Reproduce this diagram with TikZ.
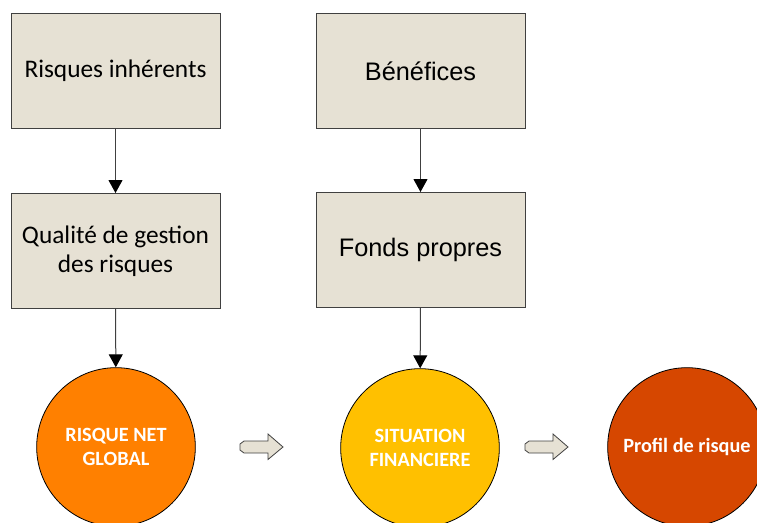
\documentclass[tikz,border=0pt]{standalone}
\usepackage{fontspec}
\setmainfont{Carlito}
\newfontfamily\arialfont{Liberation Sans}
\usetikzlibrary{arrows.meta, positioning}

\definecolor{boxtan}{RGB}{230,225,212}
\definecolor{edgegray}{RGB}{64,64,64}
\definecolor{riskorange}{RGB}{255,128,0}
\definecolor{finyellow}{RGB}{255,192,0}
\definecolor{profred}{RGB}{214,71,0}

\begin{document}
\begin{tikzpicture}[
    x=0.75pt, y=-0.75pt, >=Latex,
    box/.style={rectangle, draw=edgegray, fill=boxtan, line width=0.75pt,
      minimum width=156.75pt, minimum height=86.25pt, align=center,
      font=\fontsize{19}{21.75}\selectfont},
    armbox/.style={box, font=\arialfont\fontsize{19}{23}\selectfont},
    disc/.style={circle, draw=black, line width=0.6pt, minimum size=119pt,
      inner sep=0pt, align=center, text=white,
      font=\bfseries\fontsize{15.2}{17.5}\selectfont},
    el/.style={-{Triangle[width=10.5pt, length=9.75pt, color=black]},
      draw=edgegray, line width=0.75pt},
    fatarrow/.style={draw=edgegray, fill=boxtan, line width=0.6pt, line join=miter}
  ]
    \clip (0,0) rectangle (757,522);
    \useasboundingbox (0,0) rectangle (757,522);

    % boxes
    \node[box]    (inherent) at (115.5,71)  {Risques inhérents};
    \node[box]    (quality)  at (115.5,251) {Qualité de gestion\\des risques};
    \node[armbox] (profit)   at (420.5,71)  {Bénéfices};
    \node[armbox] (equity)   at (420.5,250) {Fonds propres};

    % circles
    \node[disc, fill=riskorange] (netrisk) at (116,447) {RISQUE NET\\GLOBAL};
    \node[disc, fill=finyellow]  (finsit)  at (420,448) {SITUATION\\FINANCIERE};
    \node[disc, fill=profred]    (profile) at (687,447) {Profil de risque};

    % connectors
    \draw[el] (inherent) -- (quality);
    \draw[el] (quality) -- (netrisk);
    \draw[el] (profit) -- (equity);
    \draw[el] (equity) -- (finsit);

    % block arrows between circles
    \foreach \ax in {240,525}
      \draw[fatarrow] (\ax,444) -- ++(4,-3) -- ++(24,0) -- ++(0,-7) -- ++(15,13)
        -- ++(-15,12.5) -- ++(0,-6.5) -- ++(-24,0) -- ++(-4,-3) -- cycle;
  \end{tikzpicture}
\end{document}
